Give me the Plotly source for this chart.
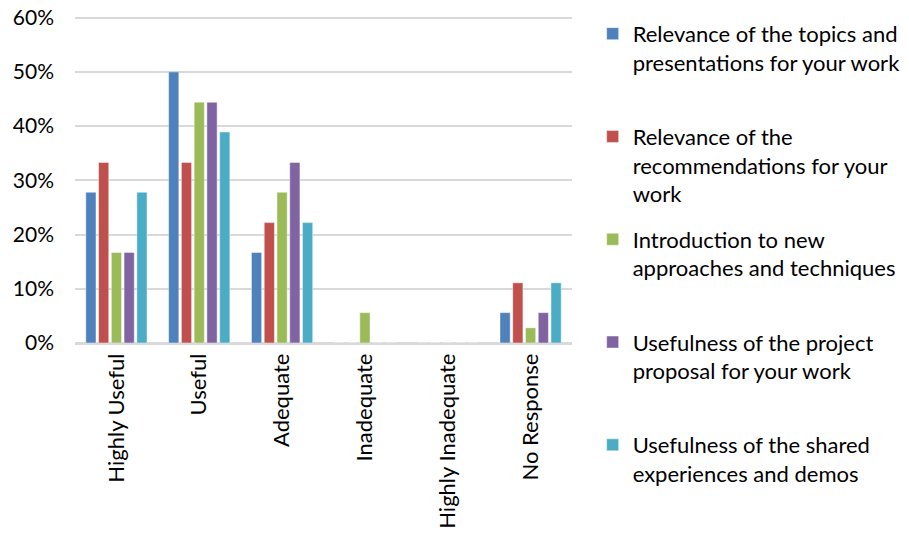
import plotly.graph_objects as go

categories = ["Highly Useful", "Useful", "Adequate", "Inadequate",
              "Highly Inadequate", "No Response"]

series_names = [
    "Relevance of the topics and<br>presentations for your work<br> ",
    "Relevance of the<br>recommendations for your<br>work",
    "Introduction to new<br>approaches and techniques<br> ",
    "Usefulness of the project<br>proposal for your work<br> ",
    "Usefulness of the shared<br>experiences and demos<br> ",
]

topics_relevance = [27.8, 50.0, 16.7, 0.0, 0.0, 5.6]
recommendations_relevance = [33.3, 33.3, 22.2, 0.0, 0.0, 11.1]
new_approaches = [16.7, 44.4, 27.8, 5.6, 0.0, 2.8]
proposal_usefulness = [16.7, 44.4, 33.3, 0.0, 0.0, 5.6]
shared_experiences = [27.8, 38.9, 22.2, 0.0, 0.0, 11.1]

y_tick_values = [0, 10, 20, 30, 40, 50, 60]
y_tick_labels = ["0%", "10%", "20%", "30%", "40%", "50%", "60%"]

series_values = [topics_relevance, recommendations_relevance, new_approaches,
                 proposal_usefulness, shared_experiences]
colors = ["#4F81BD", "#C0504D", "#9BBB59", "#8064A2", "#4BACC6"]

FONT = "Lato, Carlito, Calibri, sans-serif"

fig = go.Figure()
for i, (name, vals, col) in enumerate(zip(series_names, series_values, colors)):
    fig.add_trace(go.Bar(
        x=categories, y=vals, name=name,
        marker=dict(color=col, line=dict(color="rgba(255,255,255,0.45)", width=1)),
        legendgroup=f"g{i}",
    ))

fig.update_layout(
    width=909, height=535,
    margin=dict(l=75, r=337, t=16.4, b=192, autoexpand=False),
    paper_bgcolor="white", plot_bgcolor="white",
    barmode="group", bargap=0.23, bargroupgap=0.2,
    font=dict(family=FONT, size=20, color="#000000"),
    legend=dict(
        x=0.652, xref="container", y=0.976, yref="container",
        xanchor="left", yanchor="top",
        valign="top", tracegroupgap=14, maxheight=1,
        font=dict(family=FONT, size=22, color="#000000"),
        itemwidth=30,
    ),
    showlegend=True,
)

fig.update_xaxes(
    type="category", tickangle=-90, automargin=False,
    showline=True, linecolor="#D9D9D9", linewidth=1.5,
    showgrid=False, ticks="",
    tickfont=dict(family=FONT, size=22, color="#000000"),
)
# top of range sits just above 60% so the last gridline is not clipped
fig.update_yaxes(
    range=[0, 60.3], tickmode="array",
    tickvals=y_tick_values, ticktext=y_tick_labels,
    automargin=False,
    showgrid=True, gridcolor="#D9D9D9", gridwidth=1.5,
    zeroline=True, zerolinecolor="#D9D9D9", zerolinewidth=1.5,
    showline=False, ticks="", ticklabelstandoff=20,
    tickfont=dict(family=FONT, size=21, color="#000000"),
)

fig.write_html("out.html")
